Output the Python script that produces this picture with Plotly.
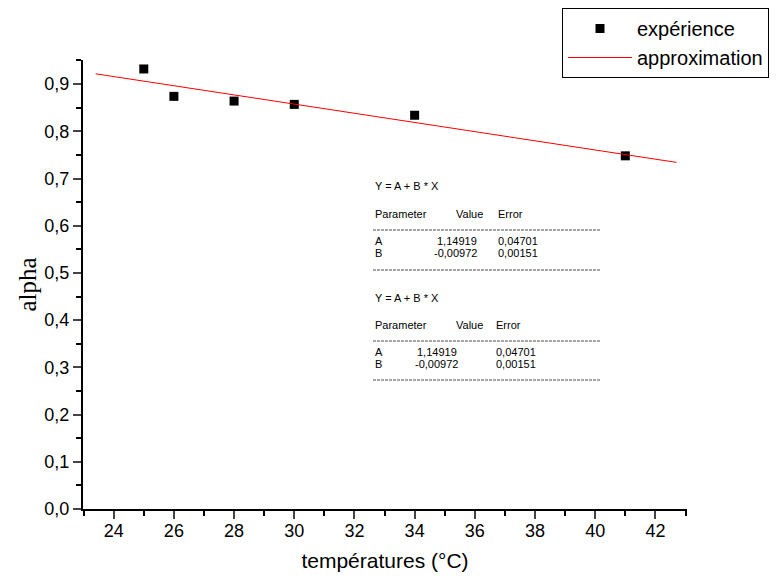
import plotly.graph_objects as go

# data
temperatures = [25, 26, 28, 30, 34, 41]
alpha = [0.932, 0.874, 0.864, 0.857, 0.834, 0.748]
A = 1.14919
B = -0.00972
fit_x = [23.4, 42.7]
fit_y = [A + B * x for x in fit_x]

x_ticks = [24, 26, 28, 30, 32, 34, 36, 38, 40, 42]
y_ticks = [0.0, 0.1, 0.2, 0.3, 0.4, 0.5, 0.6, 0.7, 0.8, 0.9]

fig = go.Figure()
fig.add_trace(go.Scatter(x=temperatures, y=alpha, mode="markers", name="expérience",
                         marker=dict(symbol="square", size=9, color="black")))
fig.add_trace(go.Scatter(x=fit_x, y=fit_y, mode="lines", name="approximation",
                         line=dict(color="red", width=1)))

# plot area in pixels
L, R, T, Bm = 83, 687, 60, 509
W, H = R - L, Bm - T

def px(xp):
    return (xp - L) / W

def py(yp):
    return (Bm - yp) / H

annots = []
def txt(x, y, s, anchor="left"):
    annots.append(dict(x=px(x), y=py(y), xref="paper", yref="paper", text=s, showarrow=False,
                       xanchor=anchor, yanchor="middle", font=dict(family="Arial", size=11, color="black")))

# block 1
txt(373, 186, "Y = A + B * X")
txt(373, 214, "Parameter"); txt(454, 214, "Value"); txt(496, 214, "Error")
txt(373, 241, "A"); txt(479, 241, "1,14919", "right"); txt(496, 241, "0,04701")
txt(373, 253, "B"); txt(479, 253, "-0,00972", "right"); txt(496, 253, "0,00151")
# block 2
txt(373, 298, "Y = A + B * X")
txt(373, 325, "Parameter"); txt(454, 325, "Value"); txt(494, 325, "Error")
txt(373, 352, "A"); txt(415, 352, "1,14919"); txt(494, 352, "0,04701")
txt(373, 364, "B"); txt(413, 364, "-0,00972"); txt(494, 364, "0,00151")

shapes = []
for yy in [230, 270, 341, 380]:
    shapes.append(dict(type="line", xref="paper", yref="paper", x0=px(373), x1=px(600),
                       y0=py(yy), y1=py(yy), line=dict(color="black", width=0.7, dash="3px,1px")))

fig.update_layout(
    width=779, height=576,
    margin=dict(l=L, r=779 - R, t=T, b=576 - Bm, autoexpand=False),
    paper_bgcolor="white", plot_bgcolor="white",
    separators=", ",
    font=dict(family="Arial", size=18, color="black"),
    showlegend=True,
    legend=dict(x=px(562), y=py(8), xanchor="left", yanchor="top",
                bordercolor="black", borderwidth=1, bgcolor="white",
                font=dict(family="Arial", size=20), itemwidth=64,
                tracegroupgap=0),
    annotations=annots,
    shapes=shapes,
    xaxis=dict(range=[22.98, 43.05], tickvals=x_ticks, ticks="outside", ticklen=8, tickwidth=2,
               showline=True, linecolor="black", linewidth=2, showgrid=False, zeroline=False,
               automargin=False, ticklabelstandoff=-4,
               minor=dict(dtick=1, tick0=23, ticks="outside", ticklen=5, tickwidth=2, tickcolor="black"),
               title=dict(text="températures (°C)", font=dict(family="Arial", size=21), standoff=14),
               tickfont=dict(size=18)),
    yaxis=dict(range=[0, 0.951], tickvals=y_ticks, tickformat=".1f", ticks="outside", ticklen=8, tickwidth=2,
               showline=True, linecolor="black", linewidth=2, showgrid=False, zeroline=False,
               automargin=False,
               minor=dict(dtick=0.05, tick0=0, ticks="outside", ticklen=5, tickwidth=2, tickcolor="black"),
               title=dict(text="alpha", font=dict(family="Liberation Serif", size=25), standoff=1),
               tickfont=dict(size=18)),
)

fig.write_html("out.html", config={"displayModeBar": False},
               post_script="document.body.style.margin='0';document.body.style.overflow='hidden';")
